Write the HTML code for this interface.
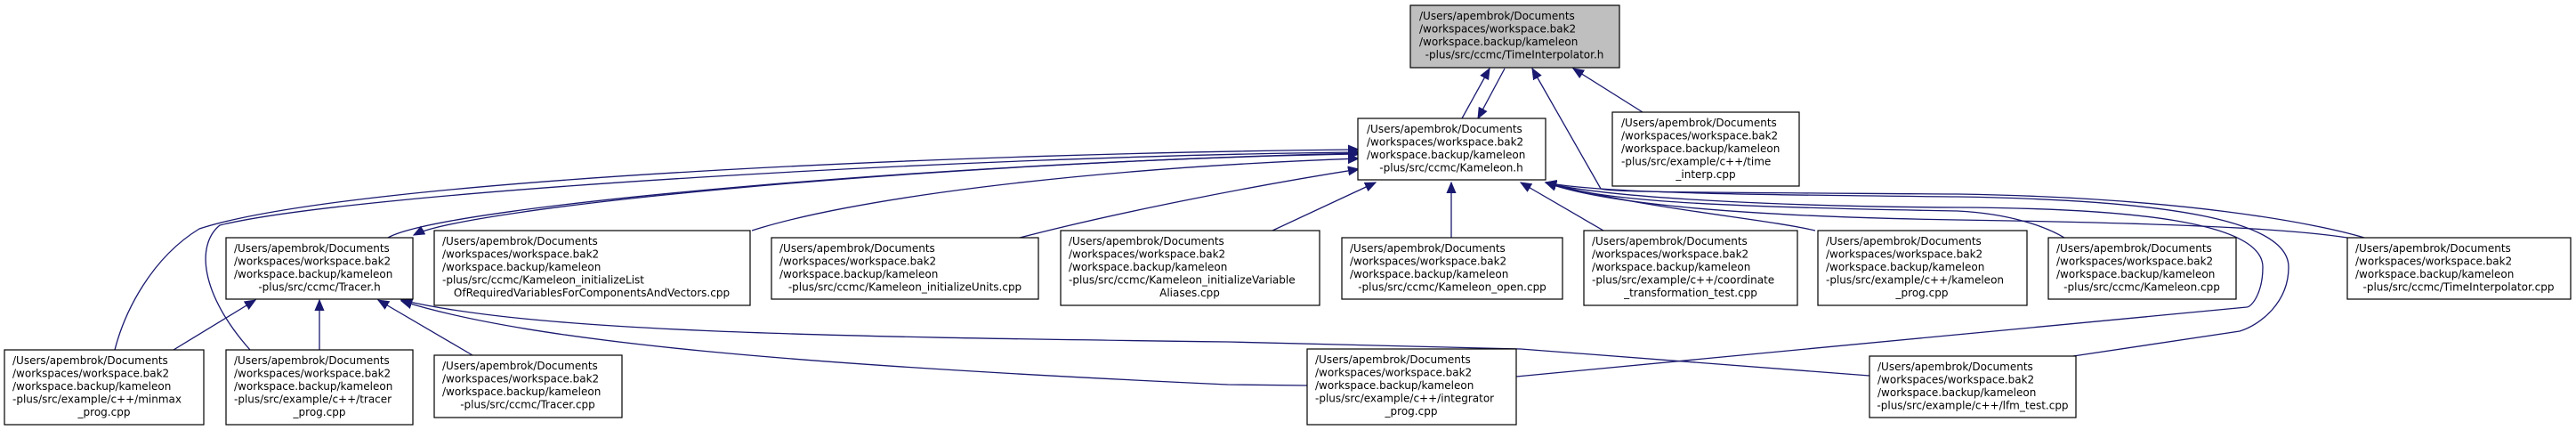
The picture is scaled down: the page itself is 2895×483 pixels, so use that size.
<!DOCTYPE html>
<html><head><meta charset="utf-8"><style>
html,body{margin:0;padding:0;background:#fff;}
svg{display:block;}
text{font-family:"DejaVu Sans","Liberation Sans",sans-serif;font-size:12px;fill:#000;}
.b{fill:#fff;stroke:#000;stroke-width:1.2;}
.e{fill:none;stroke:#191970;stroke-width:1.3;}
</style></head><body>
<svg width="2895" height="483" viewBox="0 0 2895 483" xmlns="http://www.w3.org/2000/svg">
<defs>
<marker id="a" markerUnits="userSpaceOnUse" markerWidth="14" markerHeight="12" refX="12" refY="5" orient="auto-start-reverse" viewBox="0 0 14 10">
<path d="M0,0 L12,5 L0,10 Z" fill="#191970" stroke="#191970"/>
</marker>
</defs>
<g class="e">
<path marker-start="url(#a)" d="M1674,77 L1643,133"/>
<path marker-start="url(#a)" d="M1661,133 L1691,77"/>
<path marker-start="url(#a)" d="M1768,77 L1846,126"/>
<path marker-start="url(#a)" d="M1722,77 L1799,212 C1805,216 1900,216 2200,218 C2450,222 2600,250 2657,267"/>
<path marker-start="url(#a)" d="M1527,168 C1100,172 400,200 224,257 C170,290 140,350 129,393"/>
<path marker-start="url(#a)" d="M1527,171 C1100,175 400,215 247,253 C220,275 225,330 281,393"/>
<path marker-start="url(#a)" d="M1527,173 C1100,180 500,230 436,267"/>
<path marker-start="url(#a)" d="M465,264 C520,235 1000,185 1527,172"/>
<path marker-start="url(#a)" d="M1527,178 C1200,190 950,225 845,259"/>
<path marker-start="url(#a)" d="M1527,190 C1400,210 1250,240 1146,267"/>
<path marker-start="url(#a)" d="M1546,205 L1430,259"/>
<path marker-start="url(#a)" d="M1631,205 L1631,267"/>
<path marker-start="url(#a)" d="M1709,205 L1802,259"/>
<path marker-start="url(#a)" d="M1737,205 C1850,235 1980,245 2040,259"/>
<path marker-start="url(#a)" d="M1737,205 C1800,225 1900,232 2200,237 C2260,240 2300,255 2320,267"/>
<path marker-start="url(#a)" d="M1737,205 C1800,228 1950,243 2200,247 C2400,250 2560,255 2638,267"/>
<path marker-start="url(#a)" d="M1737,205 C1800,222 2000,232 2200,233 C2400,234 2543,250 2543,300 C2543,330 2530,345 2525,345 L1704,423"/>
<path marker-start="url(#a)" d="M1737,205 C1800,218 2000,219 2200,221 C2450,225 2572,250 2572,300 C2572,340 2540,365 2517,372 L2330,400"/>
<path marker-start="url(#a)" d="M287,337 L195,393"/>
<path marker-start="url(#a)" d="M359,337 L359,393"/>
<path marker-start="url(#a)" d="M425,337 L531,399"/>
<path marker-start="url(#a)" d="M451,337 C600,372 900,378 1380,384 L1709,392 L2101,422"/>
<path marker-start="url(#a)" d="M451,338 C600,385 900,410 1380,432 L1469,433"/>
</g>

<!-- TimeInterpolator.h -->
<rect x="1585" y="6" width="235" height="70" fill="#bfbfbf" stroke="#000" stroke-width="1.2"/>
<text x="1595" y="22">/Users/apembrok/Documents</text>
<text x="1595" y="36.5">/workspaces/workspace.bak2</text>
<text x="1595" y="51">/workspace.backup/kameleon</text>
<text x="1702" y="65.5" text-anchor="middle">-plus/src/ccmc/TimeInterpolator.h</text>

<!-- Kameleon.h -->
<rect class="b" x="1526" y="133" width="211" height="69"/>
<text x="1536" y="149">/Users/apembrok/Documents</text>
<text x="1536" y="163.5">/workspaces/workspace.bak2</text>
<text x="1536" y="178">/workspace.backup/kameleon</text>
<text x="1631" y="192.5" text-anchor="middle">-plus/src/ccmc/Kameleon.h</text>

<!-- time_interp.cpp -->
<rect class="b" x="1812" y="126" width="210" height="83"/>
<text x="1822" y="142">/Users/apembrok/Documents</text>
<text x="1822" y="156.5">/workspaces/workspace.bak2</text>
<text x="1822" y="171">/workspace.backup/kameleon</text>
<text x="1822" y="185.5">-plus/src/example/c++/time</text>
<text x="1917" y="200" text-anchor="middle">_interp.cpp</text>

<!-- Tracer.h -->
<rect class="b" x="254" y="267" width="210" height="69"/>
<text x="263" y="283">/Users/apembrok/Documents</text>
<text x="263" y="297.5">/workspaces/workspace.bak2</text>
<text x="263" y="312">/workspace.backup/kameleon</text>
<text x="359" y="326.5" text-anchor="middle">-plus/src/ccmc/Tracer.h</text>

<!-- initializeList -->
<rect class="b" x="488" y="259" width="355" height="84"/>
<text x="497" y="275">/Users/apembrok/Documents</text>
<text x="497" y="289.5">/workspaces/workspace.bak2</text>
<text x="497" y="304">/workspace.backup/kameleon</text>
<text x="497" y="318.5">-plus/src/ccmc/Kameleon_initializeList</text>
<text x="665" y="333" text-anchor="middle">OfRequiredVariablesForComponentsAndVectors.cpp</text>

<!-- initializeUnits -->
<rect class="b" x="867" y="267" width="300" height="69"/>
<text x="876" y="283">/Users/apembrok/Documents</text>
<text x="876" y="297.5">/workspaces/workspace.bak2</text>
<text x="876" y="312">/workspace.backup/kameleon</text>
<text x="1017" y="326.5" text-anchor="middle">-plus/src/ccmc/Kameleon_initializeUnits.cpp</text>

<!-- initializeVariableAliases -->
<rect class="b" x="1192" y="259" width="291" height="84"/>
<text x="1201" y="275">/Users/apembrok/Documents</text>
<text x="1201" y="289.5">/workspaces/workspace.bak2</text>
<text x="1201" y="304">/workspace.backup/kameleon</text>
<text x="1201" y="318.5">-plus/src/ccmc/Kameleon_initializeVariable</text>
<text x="1337" y="333" text-anchor="middle">Aliases.cpp</text>

<!-- Kameleon_open -->
<rect class="b" x="1508" y="267" width="248" height="69"/>
<text x="1517" y="283">/Users/apembrok/Documents</text>
<text x="1517" y="297.5">/workspaces/workspace.bak2</text>
<text x="1517" y="312">/workspace.backup/kameleon</text>
<text x="1632" y="326.5" text-anchor="middle">-plus/src/ccmc/Kameleon_open.cpp</text>

<!-- coordinate -->
<rect class="b" x="1780" y="259" width="240" height="84"/>
<text x="1789" y="275">/Users/apembrok/Documents</text>
<text x="1789" y="289.5">/workspaces/workspace.bak2</text>
<text x="1789" y="304">/workspace.backup/kameleon</text>
<text x="1789" y="318.5">-plus/src/example/c++/coordinate</text>
<text x="1900" y="333" text-anchor="middle">_transformation_test.cpp</text>

<!-- kameleon_prog -->
<rect class="b" x="2043" y="259" width="235" height="84"/>
<text x="2052" y="275">/Users/apembrok/Documents</text>
<text x="2052" y="289.5">/workspaces/workspace.bak2</text>
<text x="2052" y="304">/workspace.backup/kameleon</text>
<text x="2052" y="318.5">-plus/src/example/c++/kameleon</text>
<text x="2160" y="333" text-anchor="middle">_prog.cpp</text>

<!-- Kameleon.cpp -->
<rect class="b" x="2302" y="267" width="211" height="69"/>
<text x="2311" y="283">/Users/apembrok/Documents</text>
<text x="2311" y="297.5">/workspaces/workspace.bak2</text>
<text x="2311" y="312">/workspace.backup/kameleon</text>
<text x="2407" y="326.5" text-anchor="middle">-plus/src/ccmc/Kameleon.cpp</text>

<!-- TimeInterpolator.cpp -->
<rect class="b" x="2638" y="267" width="251" height="69"/>
<text x="2647" y="283">/Users/apembrok/Documents</text>
<text x="2647" y="297.5">/workspaces/workspace.bak2</text>
<text x="2647" y="312">/workspace.backup/kameleon</text>
<text x="2763" y="326.5" text-anchor="middle">-plus/src/ccmc/TimeInterpolator.cpp</text>

<!-- minmax -->
<rect class="b" x="5" y="393" width="224" height="84"/>
<text x="14" y="409">/Users/apembrok/Documents</text>
<text x="14" y="423.5">/workspaces/workspace.bak2</text>
<text x="14" y="438">/workspace.backup/kameleon</text>
<text x="14" y="452.5">-plus/src/example/c++/minmax</text>
<text x="117" y="467" text-anchor="middle">_prog.cpp</text>

<!-- tracer_prog -->
<rect class="b" x="254" y="393" width="210" height="84"/>
<text x="263" y="409">/Users/apembrok/Documents</text>
<text x="263" y="423.5">/workspaces/workspace.bak2</text>
<text x="263" y="438">/workspace.backup/kameleon</text>
<text x="263" y="452.5">-plus/src/example/c++/tracer</text>
<text x="359" y="467" text-anchor="middle">_prog.cpp</text>

<!-- Tracer.cpp -->
<rect class="b" x="488" y="399" width="211" height="70"/>
<text x="497" y="415">/Users/apembrok/Documents</text>
<text x="497" y="429.5">/workspaces/workspace.bak2</text>
<text x="497" y="444">/workspace.backup/kameleon</text>
<text x="593" y="458.5" text-anchor="middle">-plus/src/ccmc/Tracer.cpp</text>

<!-- integrator -->
<rect class="b" x="1469" y="392" width="235" height="85"/>
<text x="1478" y="408">/Users/apembrok/Documents</text>
<text x="1478" y="422.5">/workspaces/workspace.bak2</text>
<text x="1478" y="437">/workspace.backup/kameleon</text>
<text x="1478" y="451.5">-plus/src/example/c++/integrator</text>
<text x="1586" y="466" text-anchor="middle">_prog.cpp</text>

<!-- lfm_test -->
<rect class="b" x="2101" y="400" width="232" height="69"/>
<text x="2110" y="416">/Users/apembrok/Documents</text>
<text x="2110" y="430.5">/workspaces/workspace.bak2</text>
<text x="2110" y="445">/workspace.backup/kameleon</text>
<text x="2217" y="459.5" text-anchor="middle">-plus/src/example/c++/lfm_test.cpp</text>
</svg>
</body></html>
